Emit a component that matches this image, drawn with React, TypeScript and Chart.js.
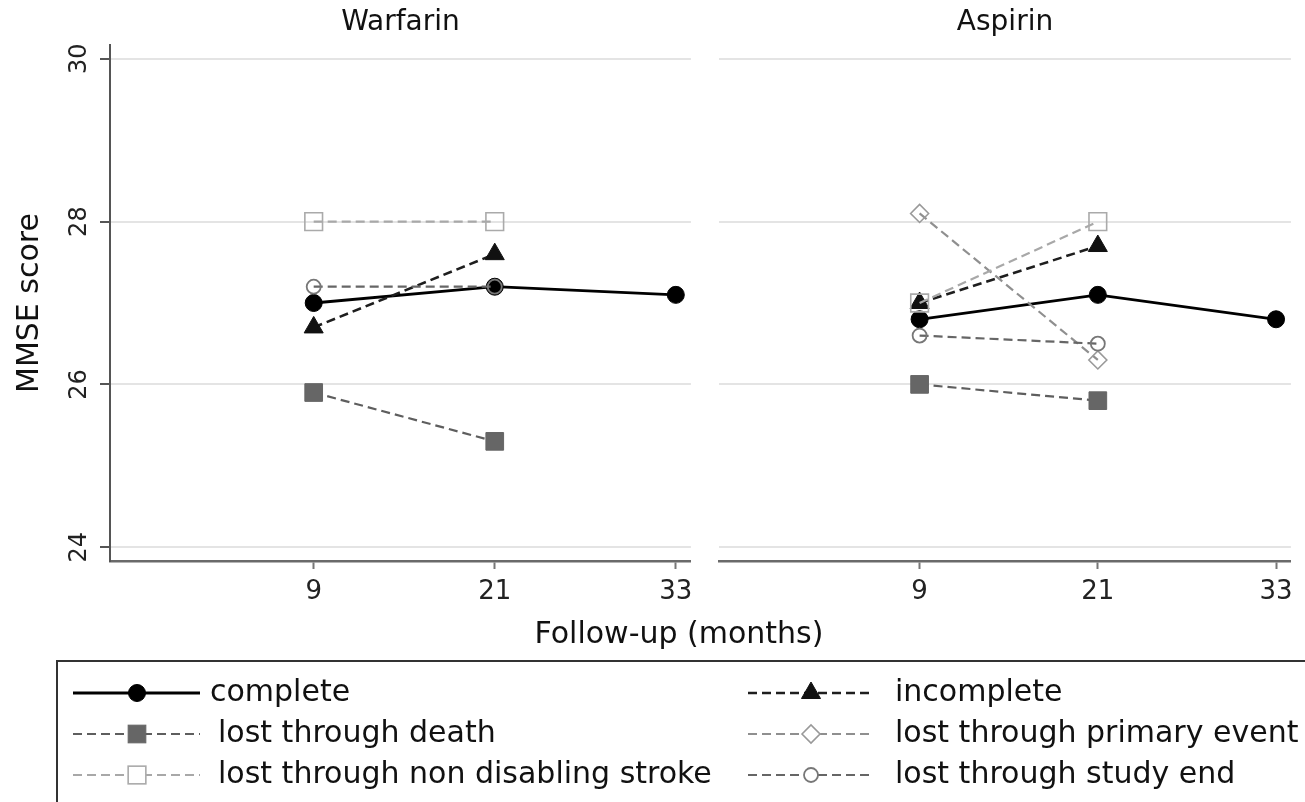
import React, { useEffect, useRef } from "react";
import { Chart, registerables } from "chart.js";

Chart.register(...registerables);

const FONT = "'DejaVu Sans', 'Liberation Sans', sans-serif";

// ---------------- data ----------------
const followUp = [9, 21, 33];
const xTickValues = [9, 21, 33];
const yTickValues = [24, 26, 28, 30];
const panelTitles = ["Warfarin", "Aspirin"];
const yAxisTitle = "MMSE score";
const xAxisTitle = "Follow-up (months)";
const seriesLabels = [
  "complete",
  "incomplete",
  "lost through death",
  "lost through primary event",
  "lost through non disabling stroke",
  "lost through study end",
];

const warfarinComplete = [27.0, 27.2, 27.1];
const warfarinIncomplete = [26.7, 27.6];
const warfarinDeath = [25.9, 25.3];
const warfarinPrimaryEvent: number[] = [];
const warfarinStroke = [28.0, 28.0];
const warfarinStudyEnd = [27.2, 27.2];

const aspirinComplete = [26.8, 27.1, 26.8];
const aspirinIncomplete = [27.0, 27.7];
const aspirinDeath = [26.0, 25.8];
const aspirinPrimaryEvent = [28.1, 26.3];
const aspirinStroke = [27.0, 28.0];
const aspirinStudyEnd = [26.6, 26.5];

const X_MIN = -4.5;
const X_MAX = 34.0;
const Y_MIN = 23.83;
const Y_MAX = 30.17;

// ---------------- styles ----------------
type SeriesStyle = {
  line: string;
  width: number;
  dash: number[];
  marker: "circle" | "triangle" | "rect" | "rectRot";
  radius: number;
  fill: string;
  stroke: string;
  strokeWidth: number;
};

const seriesStyles: SeriesStyle[] = [
  { line: "#000000", width: 2.8, dash: [], marker: "circle", radius: 8.5, fill: "#000000", stroke: "#000000", strokeWidth: 1 },
  { line: "#1e1e1e", width: 2.6, dash: [9, 5], marker: "triangle", radius: 11, fill: "#111111", stroke: "#111111", strokeWidth: 1 },
  { line: "#5e5e5e", width: 2.2, dash: [9, 5], marker: "rect", radius: 12.5, fill: "#666666", stroke: "#666666", strokeWidth: 1 },
  { line: "#8f8f8f", width: 2.2, dash: [9, 5], marker: "rectRot", radius: 9, fill: "rgba(255,255,255,0)", stroke: "#999999", strokeWidth: 1.6 },
  { line: "#a8a8a8", width: 2.2, dash: [9, 5], marker: "rect", radius: 12.5, fill: "rgba(255,255,255,0)", stroke: "#aaaaaa", strokeWidth: 1.6 },
  { line: "#666666", width: 2.2, dash: [9, 5], marker: "circle", radius: 7, fill: "rgba(255,255,255,0)", stroke: "#777777", strokeWidth: 1.8 },
];

type PanelProps = {
  title: string;
  series: number[][];
  left: number;
  width: number;
  isLeft: boolean;
};

function Panel({ title, series, left, width, isLeft }: PanelProps) {
  const ref = useRef<HTMLCanvasElement>(null);
  useEffect(() => {
    const datasets = series.map((vals, i) => {
      const s = seriesStyles[i];
      return {
        label: seriesLabels[i],
        data: vals.map((v, j) => ({ x: followUp[j], y: v })),
        borderColor: s.line,
        borderWidth: s.width,
        borderDash: s.dash,
        pointStyle: s.marker,
        pointRadius: s.radius,
        pointBackgroundColor: s.fill,
        pointBorderColor: s.stroke,
        pointBorderWidth: s.strokeWidth,
        fill: false,
        tension: 0,
        order: series.length - i,
        clip: false as any,
      };
    });
    const chart = new Chart(ref.current as HTMLCanvasElement, {
      type: "line",
      data: { datasets: datasets as any },
      options: {
        animation: false,
        responsive: false,
        maintainAspectRatio: false,
        events: [],
        layout: { padding: { left: 0, right: isLeft ? 10 : 2, top: 0, bottom: 0 } },
        plugins: {
          legend: { display: false },
          tooltip: { enabled: false },
          title: {
            display: true,
            text: title,
            fullSize: false,
            color: "#111111",
            font: { size: 28, family: FONT, weight: "normal" as any },
            padding: { top: 6, bottom: 5.4 },
          },
        },
        scales: {
          x: {
            type: "linear",
            min: X_MIN,
            max: X_MAX,
            afterBuildTicks: (s: any) => {
              s.ticks = xTickValues.map((v) => ({ value: v }));
            },
            afterFit: (s: any) => {
              s.height = 59;
              s.paddingLeft = 0;
              s.paddingRight = 0;
            },
            grid: {
              display: true,
              drawOnChartArea: false,
              drawTicks: true,
              tickLength: 8,
              tickColor: "#777777",
              tickWidth: 2,
            },
            border: { display: true, color: "#6a6a6a", width: 2.5 },
            ticks: {
              color: "#222222",
              font: { size: 26, family: FONT },
              padding: 8,
              autoSkip: false,
              maxRotation: 0,
              minRotation: 0,
              callback: (v: any) => String(v),
            },
          },
          y: {
            type: "linear",
            min: Y_MIN,
            max: Y_MAX,
            afterBuildTicks: (s: any) => {
              s.ticks = yTickValues.map((v) => ({ value: v }));
            },
            afterFit: (s: any) => {
              s.width = isLeft ? 110 : 13;
              s.paddingTop = 0;
              s.paddingBottom = 0;
            },
            grid: {
              color: "#e4e4e4",
              lineWidth: 2,
              drawTicks: isLeft,
              tickLength: 10,
              tickColor: "#555555",
              tickWidth: 2,
            },
            border: { display: isLeft, color: "#555555", width: 2 },
            ticks: {
              display: isLeft,
              minRotation: 90,
              maxRotation: 90,
              crossAlign: "center",
              padding: 5,
              color: "#222222",
              font: { size: 24, family: FONT },
              callback: (v: any) => String(v),
            },
            title: {
              display: isLeft,
              text: yAxisTitle,
              color: "#111111",
              font: { size: 30, family: FONT },
              padding: { top: 12, bottom: 0 },
            },
          },
        },
      },
    });
    return () => chart.destroy();
  }, []);
  return (
    <canvas
      ref={ref}
      width={width}
      height={620}
      style={{ position: "absolute", left, top: 0, width, height: 620, display: "block" }}
    />
  );
}

function MarkerShape({ s, cx, cy }: { s: SeriesStyle; cx: number; cy: number }) {
  const common = { fill: s.fill, stroke: s.stroke, strokeWidth: s.strokeWidth };
  const r = s.radius;
  if (s.marker === "circle") return <circle cx={cx} cy={cy} r={r} {...common} />;
  if (s.marker === "triangle") {
    const pts = `${cx},${cy - r} ${cx + 0.866 * r},${cy + 0.5 * r} ${cx - 0.866 * r},${cy + 0.5 * r}`;
    return <polygon points={pts} {...common} />;
  }
  if (s.marker === "rect") {
    const h = r * Math.SQRT1_2;
    return <rect x={cx - h} y={cy - h} width={2 * h} height={2 * h} {...common} />;
  }
  const pts = `${cx - r},${cy} ${cx},${cy - r} ${cx + r},${cy} ${cx},${cy + r}`;
  return <polygon points={pts} {...common} />;
}

function Overlay() {
  const rowsY = [693, 734, 775];
  const cols = [
    { x1: 73, x2: 200, mx: 137 },
    { x1: 748, x2: 874, mx: 811 },
  ];
  const textX = [[210, 218, 218], [895, 895, 895]];
  const items: React.ReactNode[] = [];
  seriesLabels.forEach((label, i) => {
    const col = i % 2;
    const row = Math.floor(i / 2);
    const s = seriesStyles[i];
    const y = rowsY[row];
    const c = cols[col];
    items.push(
      <g key={i}>
        <line
          x1={c.x1}
          x2={c.x2}
          y1={y}
          y2={y}
          stroke={s.line}
          strokeWidth={s.width}
          strokeDasharray={s.dash.length ? s.dash.join(" ") : undefined}
        />
        <MarkerShape s={{ ...s, fill: s.fill.startsWith("rgba") ? "#ffffff" : s.fill }} cx={c.mx} cy={y} />
        <text x={textX[col][row]} y={y + 8} fontFamily={FONT} fontSize={30} fill="#111111">
          {label}
        </text>
      </g>
    );
  });
  return (
    <svg
      width={1305}
      height={802}
      style={{ position: "absolute", left: 0, top: 0, pointerEvents: "none" }}
    >
      <text x={679} y={643} textAnchor="middle" fontFamily={FONT} fontSize={30} fill="#111111">
        {xAxisTitle}
      </text>
      <rect x={57} y={661} width={1300} height={200} fill="none" stroke="#333333" strokeWidth={2} />
      {items}
    </svg>
  );
}

export default function App() {
  const warfarinSeries = [
    warfarinComplete,
    warfarinIncomplete,
    warfarinDeath,
    warfarinPrimaryEvent,
    warfarinStroke,
    warfarinStudyEnd,
  ];
  const aspirinSeries = [
    aspirinComplete,
    aspirinIncomplete,
    aspirinDeath,
    aspirinPrimaryEvent,
    aspirinStroke,
    aspirinStudyEnd,
  ];
  return (
    <div
      style={{
        position: "absolute",
        left: 0,
        top: 0,
        width: 1305,
        height: 802,
        overflow: "hidden",
        background: "#ffffff",
        fontFamily: FONT,
      }}
    >
      <Panel title={panelTitles[0]} series={warfarinSeries} left={0} width={705} isLeft={true} />
      <Panel title={panelTitles[1]} series={aspirinSeries} left={705} width={600} isLeft={false} />
      <Overlay />
    </div>
  );
}
